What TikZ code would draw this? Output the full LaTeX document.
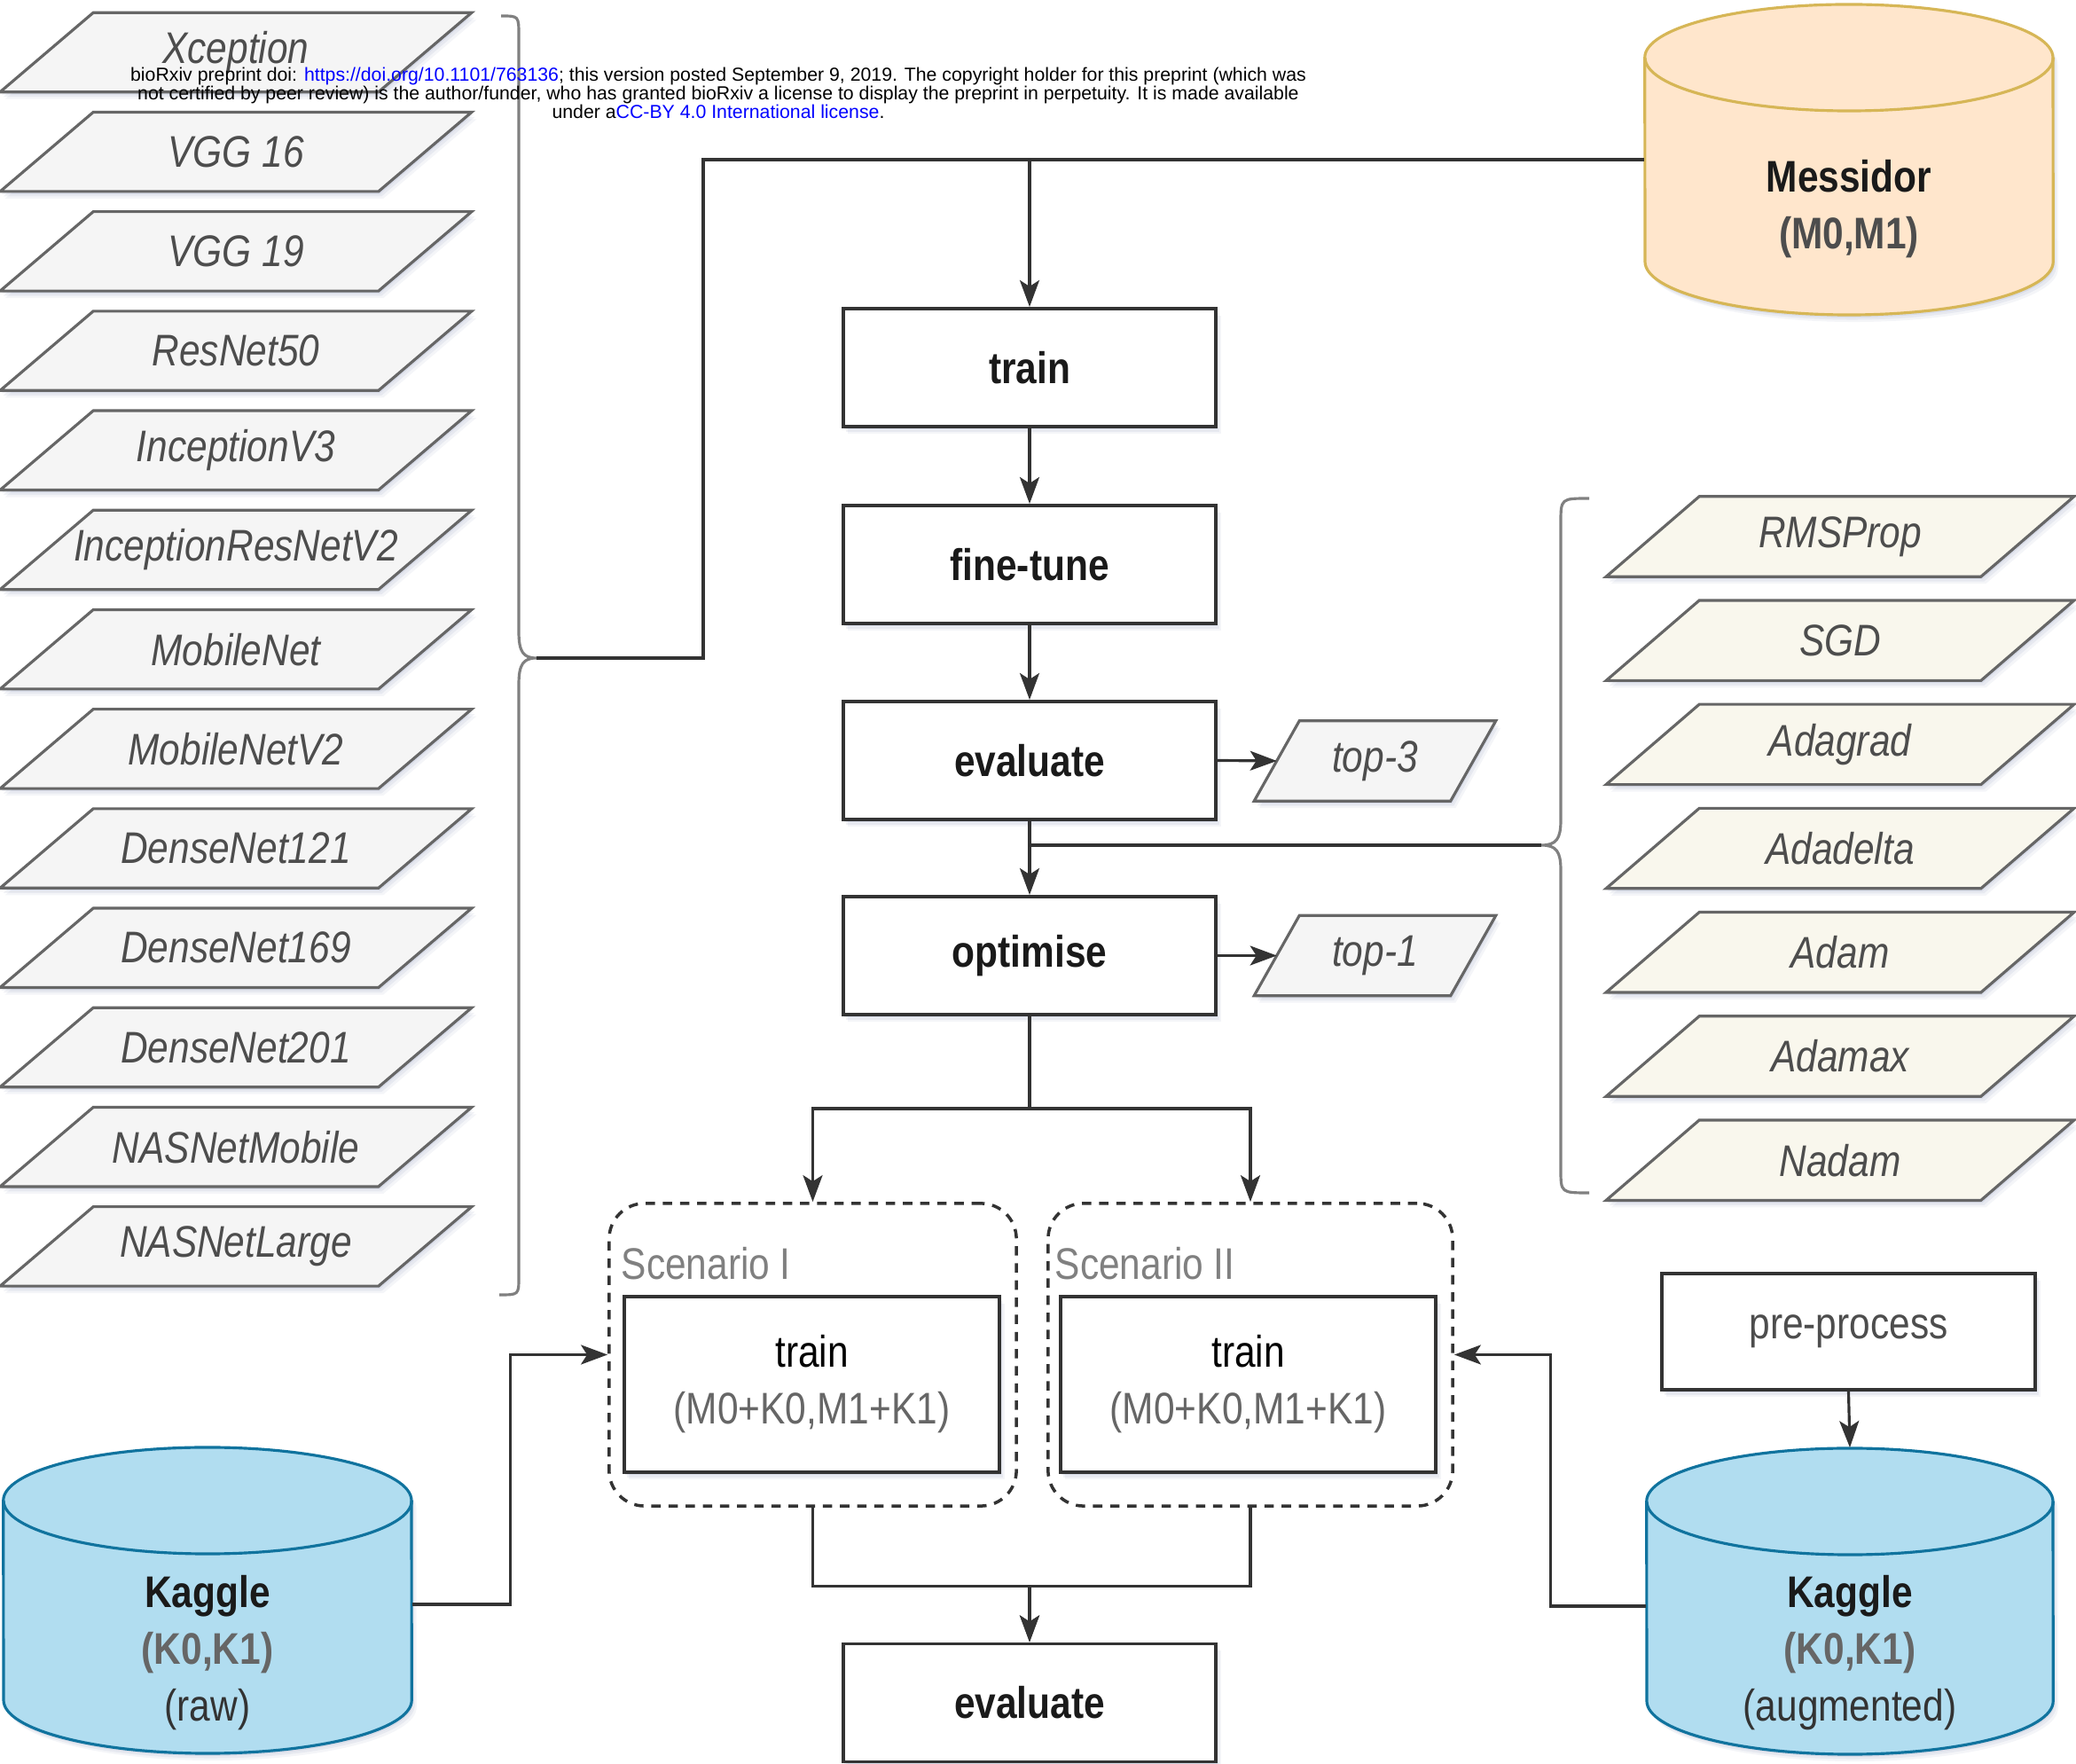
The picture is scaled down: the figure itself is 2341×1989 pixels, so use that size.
\documentclass[tikz,border=0pt]{standalone}
\usepackage{fontspec}
\setmainfont{Liberation Sans}[FakeStretch=0.85]
\newfontfamily\hdrfont{Liberation Sans}
\usetikzlibrary{arrows.meta,shadows,backgrounds,calc}
\definecolor{cdark}{HTML}{333333}
\definecolor{ctxt}{HTML}{1A1A1A}
\definecolor{cgray}{HTML}{4D4D4D}
\definecolor{cmid}{HTML}{666666}
\definecolor{clab}{HTML}{808080}
\definecolor{clight}{HTML}{F5F5F5}
\definecolor{cbeige}{HTML}{F9F7ED}
\definecolor{corf}{HTML}{FFE6CC}
\definecolor{cors}{HTML}{D6B656}
\definecolor{cbf}{HTML}{B1DDF0}
\definecolor{cbs}{HTML}{10739E}
\definecolor{csh}{HTML}{6070A0}
\definecolor{clink}{HTML}{0000FF}
\newcommand\myfs{\fontsize{14.2}{18.2}\selectfont}
% parallelogram: #1 name, #2 x, #3 y, #4 inner width, #5 height, #6 half slant, #7 style, #8 text
\newcommand\para[8]{%
  \node[paratext, minimum width=#4, minimum height=#5] (#1) at (#2,{#3}) {#8};
  \begin{scope}[on background layer]
    \draw[#7] ([xshift=-#6]#1.south west) -- ([xshift=#6]#1.north west) -- ([xshift=#6]#1.north east) -- ([xshift=-#6]#1.south east) -- cycle;
  \end{scope}}
% cylinder: #1 xl, #2 xr, #3 top ellipse y, #4 bottom ellipse y, #5 x radius, #6 fill style, #7 stroke colour
\newcommand\cyl[7]{%
  \path[#6] (#1,#4) arc[start angle=180,end angle=360,x radius=#5,y radius=0.6cm] -- (#2,#3) arc[start angle=0,end angle=180,x radius=#5,y radius=0.6cm] -- cycle;
  \draw[draw=#7, line width=0.9pt] (#1,#3) arc[start angle=180,end angle=360,x radius=#5,y radius=0.6cm];}
\begin{document}
\begin{tikzpicture}[x=0.01cm,y=-0.01cm,
  softshadow/.style={drop shadow={shadow xshift=0.015cm, shadow yshift=-0.03cm, opacity=0.10, fill=csh},
                     drop shadow={shadow xshift=0.035cm, shadow yshift=-0.055cm, opacity=0.09, fill=csh},
                     drop shadow={shadow xshift=0.055cm, shadow yshift=-0.08cm, opacity=0.07, fill=csh}},
  box/.style={draw=cdark, line width=1.1pt, fill=white, minimum width=4.2cm, minimum height=1.33cm, inner sep=0pt, font=\myfs\bfseries, text=ctxt, softshadow},
  plainbox/.style={draw=cdark, line width=1.1pt, fill=white, inner sep=0pt, font=\myfs, align=center, softshadow},
  paratext/.style={inner sep=0pt, font=\myfs\itshape, text=cgray},
  paraL/.style={draw=cmid, line width=0.9pt, fill=clight, softshadow},
  paraR/.style={draw=cmid, line width=0.9pt, fill=cbeige, softshadow},
  scen/.style={draw=cdark, line width=1pt, dash pattern=on 3pt off 2.5pt, rounded corners=0.4cm, inner sep=0pt},
  sclabel/.style={inner sep=0pt, font=\myfs, text=clab, anchor=west},
  anchornode/.style={inner sep=0pt, draw=none},
  cyltext/.style={inner sep=0pt, font=\myfs, align=center, text=ctxt},
  conn/.style={draw=cdark, line width=0.9pt},
  arrowc/.style={conn, -{Stealth[length=0.3cm,width=0.22cm,inset=0.07cm]}},
  bracec/.style={draw=clab, line width=0.9pt}
]
\useasboundingbox (0,0) rectangle (2341,1989);

% ---------- left: networks ----------
\foreach \n/\t [count=\i from 0] in {xception/Xception, vgg16/VGG 16, vgg19/VGG 19, resnet50/ResNet50,
  inceptionv3/InceptionV3, incresv2/InceptionResNetV2, mobilenet/MobileNet, mobilenetv2/MobileNetV2,
  densenet121/DenseNet121, densenet169/DenseNet169, densenet201/DenseNet201, nasnetmobile/NASNetMobile,
  nasnetlarge/NASNetLarge}
  {\para{\n}{266}{59+112.2*\i}{4.25cm}{0.88cm}{0.525cm}{paraL}{\t}}

% ---------- right: optimisers ----------
\foreach \n/\t [count=\i from 0] in {rmsprop/RMSProp, sgd/SGD, adagrad/Adagrad, adadelta/Adadelta,
  adam/Adam, adamax/Adamax, nadam/Nadam}
  {\para{\n}{2075}{605+117.2*\i}{4.21cm}{0.89cm}{0.525cm}{paraR}{\t}}

% ---------- braces ----------
\draw[bracec] (565,18) .. controls (585,18) and (585,18) .. (585,40) -- (585,712)
  .. controls (585,735) and (590,742) .. (605,742)
  .. controls (590,742) and (585,749) .. (585,772) -- (585,1440)
  .. controls (585,1460) and (585,1460) .. (563,1460);
\draw[bracec] (1792,562) .. controls (1760,562) and (1760,562) .. (1760,590) -- (1760,925)
  .. controls (1760,946) and (1755,953) .. (1738,953)
  .. controls (1755,953) and (1760,960) .. (1760,981) -- (1760,1318)
  .. controls (1760,1345) and (1760,1345) .. (1792,1345);
\coordinate (lbt) at (605,742);
\coordinate (rbt) at (1738,953);

% ---------- cylinders ----------
\cyl{1855}{2315}{65}{295}{2.3cm}{draw=cors, line width=0.9pt, fill=corf, softshadow}{cors}
\node[anchornode, minimum width=4.6cm, minimum height=3.56cm] (mess) at (2085,180) {};
\node[cyltext] (messtxt) at (2085,236) {\bfseries Messidor\\{\bfseries\color{cgray}(M0,M1)}};

\cyl{4}{464}{1692}{1917}{2.3cm}{draw=cbs, line width=0.9pt, fill=cbf, softshadow}{cbs}
\node[anchornode, minimum width=4.6cm, minimum height=3.45cm] (kraw) at (234,1809) {};
\node[cyltext] (krawtxt) at (234,1864) {\bfseries Kaggle\\{\bfseries\color{cmid}(K0,K1)}\\{\color{cdark}(raw)}};

\cyl{1857}{2315}{1693}{1918}{2.29cm}{draw=cbs, line width=0.9pt, fill=cbf, softshadow}{cbs}
\node[anchornode, minimum width=4.58cm, minimum height=3.56cm] (kaug) at (2086,1811) {};
\node[cyltext] (kaugtxt) at (2086,1864) {\bfseries Kaggle\\{\bfseries\color{cmid}(K0,K1)}\\{\color{cdark}(augmented)}};

% ---------- main column ----------
\node[box] (train) at (1161,414.5) {train};
\node[box] (finetune) at (1161,636.5) {fine-tune};
\node[box] (evaluate) at (1161,857.5) {evaluate};
\node[box] (optimise) at (1161,1077.5) {optimise};
\para{top3}{1550.5}{858}{2.2cm}{0.89cm}{0.255cm}{paraL}{top-3}
\para{top1}{1550.5}{1077.5}{2.2cm}{0.89cm}{0.255cm}{paraL}{top-1}

% ---------- scenarios ----------
\node[scen, minimum width=4.59cm, minimum height=3.41cm] (sc1) at (916.5,1527.5) {};
\node[scen, minimum width=4.56cm, minimum height=3.41cm] (sc2) at (1410,1527.5) {};
\node[sclabel] (sc1lab) at (700,1425) {Scenario I};
\node[sclabel] (sc2lab) at (1189,1425) {Scenario II};
\node[plainbox, minimum width=4.23cm, minimum height=1.98cm] (tr1) at (915.5,1561) {train\\{\color{cmid}(M0+K0,M1+K1)}};
\node[plainbox, minimum width=4.23cm, minimum height=1.98cm] (tr2) at (1407.5,1561) {train\\{\color{cmid}(M0+K0,M1+K1)}};

\node[box] (eval2) at (1161,1920) {evaluate};
\node[plainbox, minimum width=4.21cm, minimum height=1.31cm, text=cgray] (pre) at (2084.5,1501.5) {pre-process};

% ---------- connectors ----------
\draw[arrowc] (mess.west) -| (train.north);
\draw[conn] (lbt) -- ++(188,0) |- (train.north |- mess.west);
\draw[arrowc] (train.south) -- (finetune.north);
\draw[arrowc] (finetune.south) -- (evaluate.north);
\draw[arrowc] (evaluate.south) -- (optimise.north);
\draw[conn] (evaluate.south |- rbt) -- (rbt);
\draw[arrowc] (evaluate.east) -- (top3.west);
\draw[arrowc] (optimise.east) -- (top1.west);
\draw[arrowc] (optimise.south) -- ++(0,104) -| (sc1.north);
\draw[arrowc] (optimise.south) -- ++(0,104) -| (sc2.north);
\draw[arrowc] (sc1.south) -- ++(0,89) -| (eval2.north);
\draw[arrowc] (sc2.south) -- ++(0,89) -| (eval2.north);
\draw[arrowc] (kraw.east) -- ++(111,0) |- (sc1.west);
\draw[arrowc] (kaug.west) -- ++(-108,0) |- (sc2.east);
\draw[arrowc] (pre.south) -- (kaug.north);

% ---------- preprint header ----------
\node[font=\hdrfont\fontsize{6.05}{6}\selectfont, align=center, inner sep=0pt] (hdr) at (810,105)
 {bioRxiv preprint doi: {\color{clink}https://doi.org/10.1101/763136}; this version posted September 9, 2019. The copyright holder for this preprint (which was\\
  not certified by peer review) is the author/funder, who has granted bioRxiv a license to display the preprint in perpetuity. It is made available\\
  under a{\color{clink}CC-BY 4.0 International license}.};
\end{tikzpicture}
\end{document}
